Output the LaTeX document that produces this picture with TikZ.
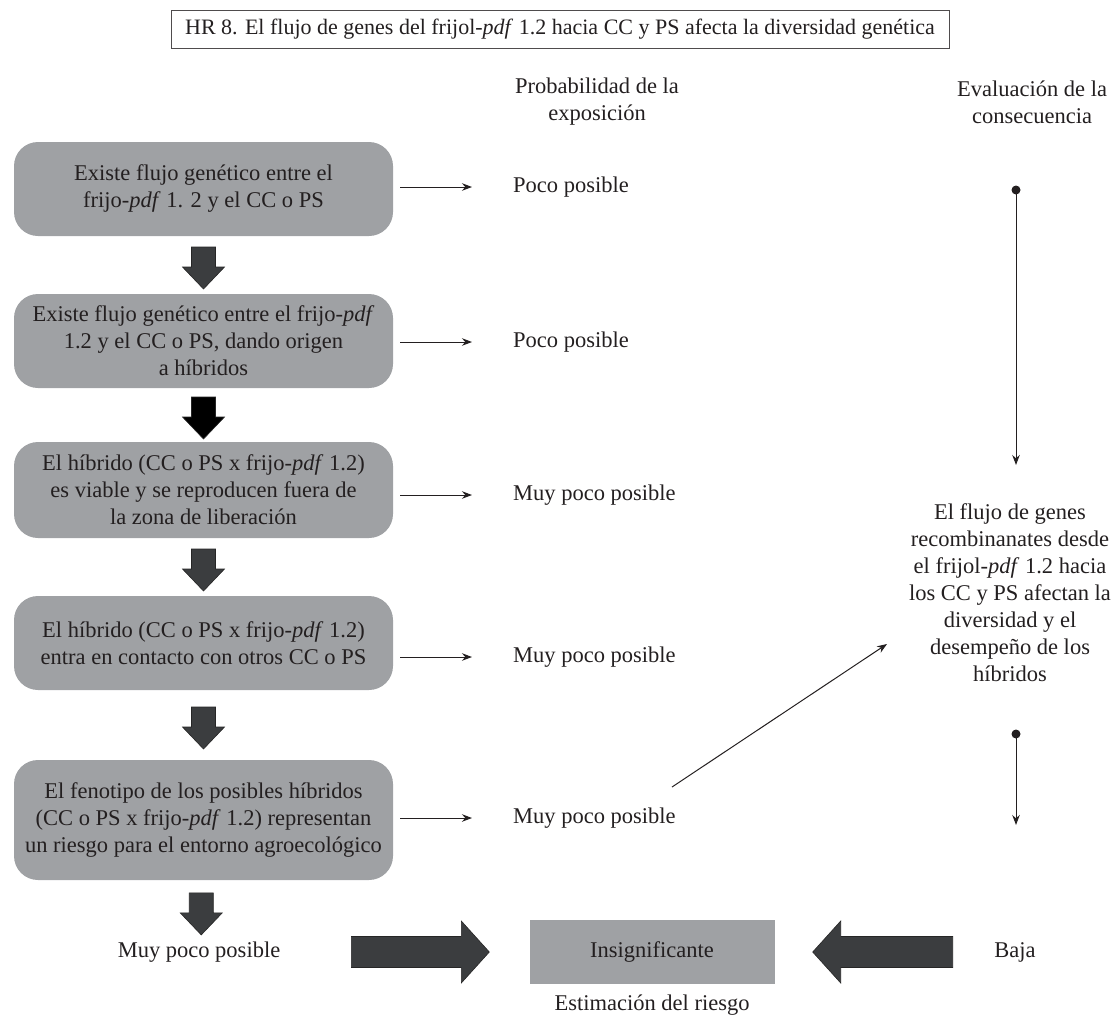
\documentclass[tikz,border=0pt]{standalone}
\usepackage{fontspec}
\setmainfont{Liberation Serif}
\usetikzlibrary{calc,arrows.meta}

\definecolor{ink}{HTML}{231F20}
\definecolor{boxgray}{HTML}{9FA1A4}
\definecolor{blockdark}{HTML}{3B3D3F}

% thick down arrow centred between two nodes
\newcommand{\downblock}[3]{%
  \fill[#3, draw=black!85, line width=0.6pt]
    ($(#1.south)!.5!(#2.north)+(0,3)$) ++(-12,-21) -- ++(24,0) -- ++(0,20)
    -- ++(9,0) -- ++(-21,22) -- ++(-21,-22) -- ++(9,0) -- cycle;}

\begin{document}
\begin{tikzpicture}[x=1pt,y=-1pt,
  every node/.style={text=ink, font=\fontsize{22.5}{27}\selectfont, inner sep=0pt},
  stepbox/.style={fill=boxgray, rounded corners=24pt, minimum width=379pt, align=center},
  thinarr/.style={draw=ink, line width=1pt, -{Stealth[length=10pt,width=7.5pt]}},
  label/.style={anchor=west}]
\useasboundingbox (0,0) rectangle (1114,1026);

% heading
\node[draw=ink!80, line width=0.9pt, minimum width=778pt, minimum height=38pt,
      font=\fontsize{22}{27}\selectfont] (title) at (560,29)
  {HR 8. El flujo de genes del frijol-\textit{pdf} 1.2 hacia CC y PS afecta la diversidad genética};
\node[align=center] (hp) at (597,102) {Probabilidad de la\\exposición};
\node[align=center] (he) at (1032,102) {Evaluación de la\\consecuencia};

% left column of steps
\node[stepbox, minimum height=94pt] (b1) at (203.5,189)
  {Existe flujo genético entre el\\frijo-\textit{pdf} 1. 2 y el CC o PS};
\node[stepbox, minimum height=94pt] (b2) at (203.5,341)
  {Existe flujo genético entre el frijo-\textit{pdf}\\1.2 y el CC o PS, dando origen\\a híbridos};
\node[stepbox, minimum height=96pt] (b3) at (203.5,490)
  {El híbrido (CC o PS x frijo-\textit{pdf} 1.2)\\es viable y se reproducen fuera de\\la zona de liberación};
\node[stepbox, minimum height=94pt] (b4) at (203.5,643)
  {El híbrido (CC o PS x frijo-\textit{pdf} 1.2)\\entra en contacto con otros CC o PS};
\node[stepbox, minimum height=120pt] (b5) at (203.5,820)
  {El fenotipo de los posibles híbridos\\(CC o PS x frijo-\textit{pdf} 1.2) representan\\un riesgo para el entorno agroecológico};
\node (bl) at (199,952) {Muy poco posible};

% likelihood labels
\node[label] (p1) at (513,187) {Poco posible};
\node[label] (p2) at (513,342) {Poco posible};
\node[label] (p3) at (513,495) {Muy poco posible};
\node[label] (p4) at (513,657) {Muy poco posible};
\node[label] (p5) at (513,818) {Muy poco posible};

\foreach \i in {1,...,5}
  \draw[thinarr] ($(b\i.east |- p\i.west)+(7,0)$) -- ($(p\i.west)+(-41,0)$);

\downblock{b1}{b2}{blockdark}
\downblock{b2}{b3}{black}
\downblock{b3}{b4}{blockdark}
\downblock{b4}{b5}{blockdark}
\downblock{b5}{bl}{blockdark}

% consequence column
\node[align=center] (cons) at (1010,593)
  {El flujo de genes\\recombinanates desde\\el frijol-\textit{pdf} 1.2 hacia\\los CC y PS afectan la\\diversidad y el\\desempeño de los\\híbridos};
\coordinate (e1) at (1016,190);
\coordinate (e2) at (1016,465);
\coordinate (e3) at (1016,734);
\coordinate (e4) at (1016,825);
\fill[ink] (e1) circle (4.5);
\draw[thinarr] (e1) -- (e2);
\fill[ink] (e3) circle (4.5);
\draw[thinarr] (e3) -- (e4);

\coordinate (d0) at (672,787);
\coordinate (d1) at (887,644);
\draw[thinarr] (d0) -- (d1);

% risk estimate row
\node[fill=boxgray, minimum width=245pt, minimum height=64pt] (ins) at (652,952) {Insignificante};
\node (baja) at (1015,952) {Baja};
\node (est) at (652,1005) {Estimación del riesgo};

\fill[blockdark, draw=black!85, line width=0.6pt]
  ($(ins.west)+(-40,0)$) -- ++(-28,-31) -- ++(0,15.5) -- ++(-110,0) -- ++(0,31)
  -- ++(110,0) -- ++(0,15.5) -- cycle;
\fill[blockdark, draw=black!85, line width=0.6pt]
  ($(ins.east)+(38,0)$) -- ++(28,-31) -- ++(0,15.5) -- ++(112,0) -- ++(0,31)
  -- ++(-112,0) -- ++(0,15.5) -- cycle;
\end{tikzpicture}
\end{document}
